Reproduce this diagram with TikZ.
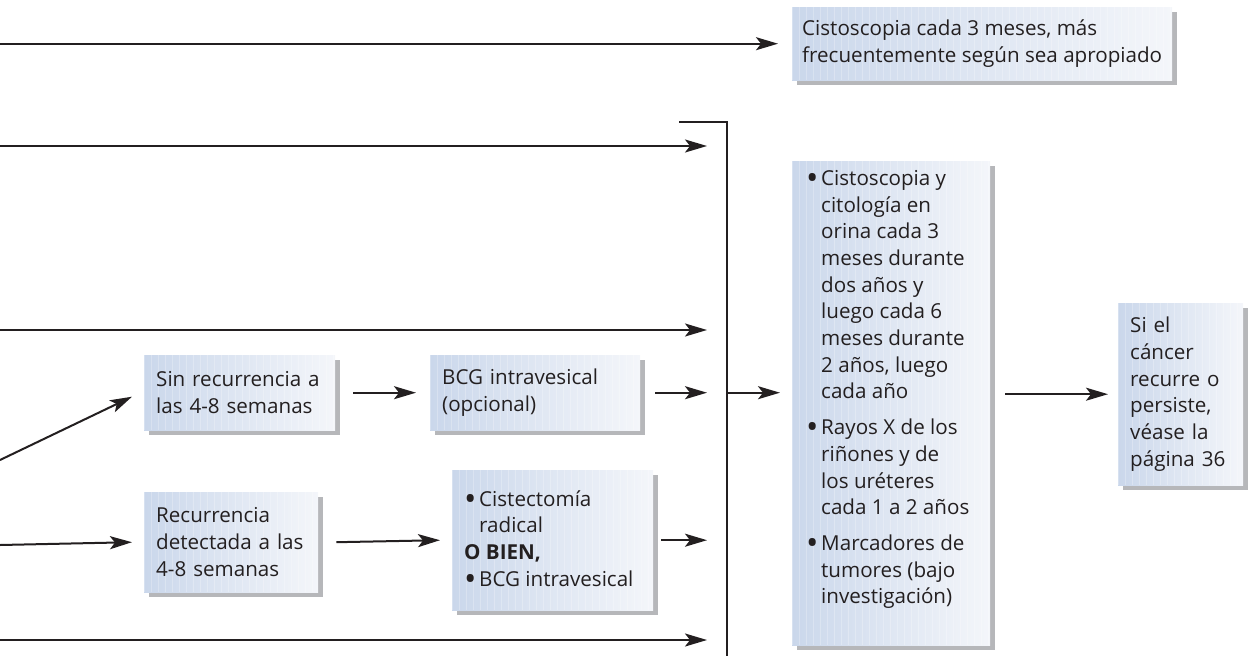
\documentclass[tikz,border=0pt]{standalone}
\usepackage{fontspec}
\usepackage{graphicx}
\setmainfont{Open Sans}
\usetikzlibrary{arrows.meta,shadows}
\definecolor{ink}{HTML}{231F20}
\definecolor{panelL}{HTML}{CAD7EB}
\definecolor{panelR}{HTML}{F4F6FA}
\definecolor{shade}{HTML}{B6B7BA}
\newcommand\bodyfont{\fontsize{20.6}{26.7}\selectfont}
% bulleted item with a hanging indent; lines inside are broken with \newline
\newcommand\bitem{\par\hangindent=15pt\hangafter=1\noindent
  \makebox[15pt][l]{\raisebox{-0.19em}{\scalebox{1.6}{\textbullet}}}}
\begin{document}
\begin{tikzpicture}[x=1pt,y=-1pt,
  panel/.style={left color=panelL,right color=panelR,
    general shadow={fill=shade,shadow xshift=5pt,shadow yshift=-5pt},
    path picture={\foreach \k in {0,7,...,420}{\draw[white,opacity=0.25,line width=0.7pt]
      ([xshift=\k pt]path picture bounding box.north west) --
      ([xshift=\k pt]path picture bounding box.south west);}},
    inner xsep=12pt, inner ysep=8pt, align=left, anchor=north west,
    font=\bodyfont, text=ink},
  wire/.style={draw=ink,line width=2.6pt},
  arr/.style={draw=ink,line width=2pt,-{Stealth[length=22pt,width=13pt,inset=5pt]}},
]
\useasboundingbox (0,0) rectangle (1257,656);

% boxes
\node[panel, inner xsep=10pt, minimum height=73pt] (top) at (792,7)
  {Cistoscopia cada 3 meses, más\\frecuentemente según sea apropiado};
\node[panel, text width=167pt, minimum height=75pt] (sin) at (144,355)
  {Sin recurrencia a\\las 4-8 semanas};
\node[panel, text width=186pt, minimum height=75pt] (bcg) at (430,355)
  {BCG intravesical\\(opcional)};
\node[panel, text width=150pt, minimum height=100pt] (rec) at (144,492)
  {Recurrencia\\detectada a las\\4-8 semanas};
\node[panel, inner ysep=0pt] (cis) at (452,470)
  {\parbox[c][140pt][c]{177pt}{\raggedright
   \bitem Cistectomía\newline radical\par\noindent\textbf{O BIEN,}\bitem BCG intravesical}};
\node[panel, inner xsep=14pt, inner ysep=9pt] (big) at (792,161)
  {\parbox[c][466pt][t]{170pt}{\raggedright
   \bitem Cistoscopia y\newline citología en\newline orina cada 3\newline meses durante\newline dos años y\newline
     luego cada 6\newline meses durante\newline 2 años, luego\newline cada año\par\vspace{9pt}%
   \bitem Rayos X de los\newline riñones y de\newline los uréteres\newline cada 1 a 2 años\par\vspace{9pt}%
   \bitem Marcadores de\newline tumores (bajo\newline investigación)}};
\node[panel, text width=101pt, minimum height=182pt] (last) at (1118,303)
  {Si el\\cáncer\\recurre o\\persiste,\\véase la\\página 36};

% bracket collecting the branches
\coordinate (o) at (0,0);
\coordinate (brL) at (679,122);
\coordinate (brT) at (727,122);
\coordinate (brB) at (727,656);
\draw[wire] (brL) -- (brT) -- (brB);

% incoming branch ends
\coordinate (s1) at (top.west -| o);
\coordinate (s2) at (0,146);
\coordinate (s3) at (0,330);
\coordinate (s4) at (0,460);
\coordinate (s5) at (0,545);
\coordinate (s6) at (0,640);

% connectors
\draw[arr] (s1) -- ([xshift=-14pt]top.west);
\draw[arr] (s2) -- ([xshift=-20pt]brT |- s2);
\draw[arr] (s3) -- ([xshift=-20pt]brT |- s3);
\draw[arr] (s4) -- ([xshift=-12pt,yshift=-4pt]sin.west);
\draw[arr] (s5) -- ([xshift=-12pt]rec.west);
\draw[arr] (s6) -- ([xshift=-20pt]brT |- s6);
\draw[arr] ([xshift=18pt]sin.east) -- ([xshift=-14pt]bcg.west);
\draw[arr] ([xshift=15pt]bcg.east) -- ([xshift=-20pt]brT |- bcg.east);
\draw[arr] ([xshift=18pt]rec.east) -- ([xshift=-12pt]cis.west);
\draw[arr] ([xshift=8pt]cis.east) -- ([xshift=-20pt]brT |- cis.east);
\draw[arr] (brT |- bcg.east) -- ([xshift=-12pt]big.west |- bcg.east);
\draw[arr] ([xshift=15pt]big.east |- last.west) -- ([xshift=-10pt]last.west);
\end{tikzpicture}
\end{document}
